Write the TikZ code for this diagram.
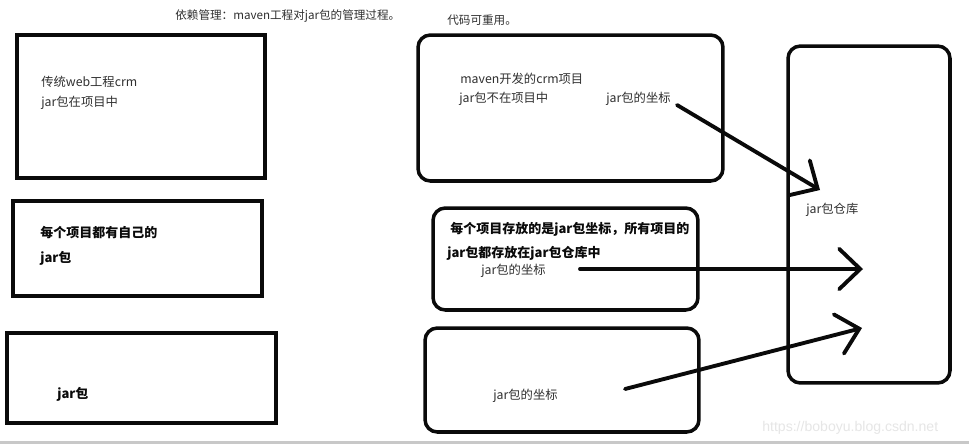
\documentclass[tikz,border=0pt]{standalone}
\usepackage{fontspec}
\setmainfont{Noto Sans CJK SC}
\newfontfamily\wmfont{Liberation Sans}
\usetikzlibrary{arrows.meta,positioning}
\definecolor{inkblack}{HTML}{0A0A0A}
\definecolor{wmgray}{HTML}{E6E6E6}
\definecolor{bargray}{HTML}{C8C8C8}
\tikzset{
  box/.style={draw=inkblack,line width=2.2pt,inner sep=0pt},
  rbox/.style={box,line width=2pt,rounded corners=7pt},
  txt/.style={anchor=base west,inner sep=0pt,font=\fontsize{7}{8}\selectfont,text=inkblack!85},
  btxt/.style={txt,font=\fontsize{7.4}{8}\selectfont\bfseries,text=inkblack},
  hand/.style={-{Straight Barb[length=12pt,width=23pt,line cap=round]},draw=inkblack,
    line width=2.2pt,line cap=round}
}

\begin{document}
\begin{tikzpicture}[x=0.02cm,y=-0.02cm]
  \fill[white] (0,0) rectangle (969,444);
  \useasboundingbox (0,0) rectangle (969,444);
  % Titles
  \node[txt,font=\fontsize{6.6}{8}\selectfont] (title) at (175,19) {依赖管理：maven工程对jar包的管理过程。};
  \node[txt,font=\fontsize{6.6}{8}\selectfont] (reuse) at (447,24) {代码可重用。};
  % Left column: traditional projects
  \node[box,minimum width=4.96cm,minimum height=2.86cm] (trad) at (141,106.5) {};
  \node[txt] (tradA) at (41,86) {传统web工程crm};
  \node[txt] (tradB) at (41,106) {jar包在项目中};
  \node[box,minimum width=4.98cm,minimum height=1.90cm] (own) at (137.5,248.5) {};
  \node[btxt] (ownA) at (40,237) {每个项目都有自己的};
  \node[btxt] (ownB) at (40,262) {jar包};
  \node[box,minimum width=5.38cm,minimum height=1.80cm] (jarbox) at (141.5,378) {};
  \node[btxt] (jarA) at (57,398) {jar包};
  % Middle column: maven projects
  \node[rbox,minimum width=6.10cm,minimum height=2.92cm] (mvn) at (570.5,108) {};
  \node[txt] (mvnA) at (460,83) {maven开发的crm项目};
  \node[txt] (mvnB) at (459,102) {jar包不在项目中};
  \node[txt] (crd1) at (606,102) {jar包的坐标};
  \node[rbox,minimum width=5.30cm,minimum height=2.04cm] (mvn2) at (565.5,259) {};
  \node[btxt] (noteA) at (450,233) {每个项目存放的是jar包坐标，所有项目的};
  \node[btxt] (noteB) at (447,257) {jar包都存放在jar包仓库中};
  \node[txt] (crd2) at (481,274) {jar包的坐标};
  \node[rbox,minimum width=5.48cm,minimum height=2.08cm] (mvn3) at (562,380) {};
  \node[txt] (crd3) at (493,399) {jar包的坐标};
  % Repository
  \node[rbox,minimum width=3.24cm,minimum height=6.74cm] (repo) at (869,214.5) {};
  \node[txt] (repoA) at (806,213) {jar包仓库};
  % Arrows into the repository
  \coordinate (from1) at (677,105);
  \coordinate (to1) at (820,190);
  \coordinate (from2) at (580,269);
  \coordinate (to2) at (863,269);
  \coordinate (from3) at (625,389);
  \coordinate (to3) at (862,328);
  \draw[hand] (from1) -- (to1);
  \draw[hand] (from2) -- (to2);
  \draw[hand] (from3) -- (to3);
  % Watermark
  \node[anchor=base west,inner sep=0pt,font=\wmfont\fontsize{8}{9}\selectfont,text=wmgray] (wm) at (762,431) {https://boboyu.blog.csdn.net};
  \fill[bargray] (0,441) rectangle (969,444);
\end{tikzpicture}
\end{document}
